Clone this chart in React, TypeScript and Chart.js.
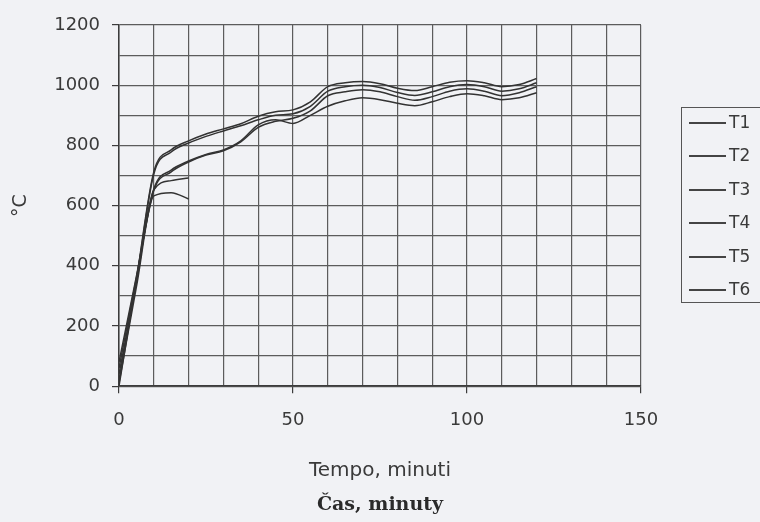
import React, { useEffect, useRef } from "react";
import { Chart, registerables } from "chart.js";

Chart.register(...registerables);

// ---- data ----
const minutes = [0, 5, 10, 15, 20, 25, 30, 35, 40, 45, 50, 55, 60, 65, 70, 75, 80, 85, 90, 95, 100, 105, 110, 115, 120];
const shortMinutes = [0, 5, 10, 15, 20];

const T1 = [0, 355, 712, 785, 815, 838, 855, 872, 897, 912, 918, 945, 995, 1008, 1012, 1005, 990, 982, 995, 1010, 1015, 1008, 995, 1002, 1022];
const T2 = [60, 360, 655, 718, 748, 770, 785, 815, 868, 885, 873, 900, 930, 948, 958, 952, 940, 932, 945, 962, 972, 965, 952, 958, 975];
const T3 = [20, 350, 705, 778, 808, 830, 848, 865, 885, 900, 905, 930, 980, 995, 1000, 992, 976, 966, 978, 995, 1002, 995, 980, 988, 1008];
const T4 = [80, 365, 650, 712, 745, 768, 782, 812, 860, 880, 890, 915, 965, 978, 985, 978, 962, 950, 962, 980, 988, 980, 965, 975, 995];
const T5 = [40, 345, 652, 683, 692];
const T6 = [10, 330, 632, 643, 622];

const seriesNames = ["T1", "T2", "T3", "T4", "T5", "T6"];
const xTickLabels = [0, 50, 100, 150];
const yTickLabels = [0, 200, 400, 600, 800, 1000, 1200];

const xTitle = "Tempo, minuti";
const yTitle = "°C";
const bottomTitle = "Čas, minuty";

// ---- styles ----
const BG = "#f1f2f5";
const GRID = "#5c5c5c";
const AXIS = "#3c3c3c";
const LINE = "#333333";
const TEXT = "#3a3a3a";
const SANS = "'DejaVu Sans', sans-serif";

export default function App() {
  const ref = useRef<HTMLCanvasElement | null>(null);

  useEffect(() => {
    document.body.style.margin = "0";
    document.body.style.background = BG;
    const seriesValues = [T1, T2, T3, T4, T5, T6];
    const seriesTimes = [minutes, minutes, minutes, minutes, shortMinutes, shortMinutes];
    const datasets = seriesNames.map((name, i) => ({
      label: name,
      data: seriesValues[i].map((v, j) => ({ x: seriesTimes[i][j], y: v })),
      borderColor: LINE,
      backgroundColor: LINE,
      borderWidth: 1.5,
      pointRadius: 0,
      fill: false,
      cubicInterpolationMode: "monotone" as const,
    }));

    const chart = new Chart(ref.current as HTMLCanvasElement, {
      type: "line",
      data: { datasets },
      options: {
        animation: false,
        responsive: false,
        layout: { padding: { top: 25, right: 119, bottom: 0, left: 0 } },
        plugins: {
          legend: { display: false },
          tooltip: { enabled: false },
          title: {
            display: true,
            text: bottomTitle,
            position: "bottom",
            fullSize: false,
            color: "#2a2a2a",
            font: { family: "'DejaVu Serif', 'Liberation Serif', serif", size: 19, weight: "bold" },
            padding: { top: 6, bottom: 6 },
          },
        },
        scales: {
          x: {
            type: "linear",
            min: 0,
            max: 150,
            ticks: {
              stepSize: 10,
              autoSkip: false,
              maxRotation: 0,
              padding: 16,
              color: TEXT,
              font: { family: SANS, size: 18 },
              callback: (v: any) => (xTickLabels.includes(Number(v)) ? String(v) : ""),
            },
            grid: {
              color: GRID,
              lineWidth: 1.2,
              tickLength: 7,
              tickColor: (ctx: any) => (ctx.tick && xTickLabels.includes(ctx.tick.value) ? AXIS : "rgba(0,0,0,0)"),
            },
            border: { color: AXIS, width: 1.5 },
            title: {
              display: true,
              text: xTitle,
              color: TEXT,
              font: { family: SANS, size: 20 },
              padding: { top: 0, bottom: 4 },
            },
            afterFit: (s: any) => {
              s.height = 101;
            },
          },
          y: {
            type: "linear",
            min: 0,
            max: 1200,
            ticks: {
              stepSize: 100,
              autoSkip: false,
              padding: 12,
              color: TEXT,
              font: { family: SANS, size: 18 },
              callback: (v: any) => (yTickLabels.includes(Number(v)) ? String(v) : ""),
            },
            grid: {
              color: GRID,
              lineWidth: 1.2,
              tickLength: 7,
              tickColor: (ctx: any) => (ctx.tick && yTickLabels.includes(ctx.tick.value) ? AXIS : "rgba(0,0,0,0)"),
            },
            border: { color: AXIS, width: 1.5 },
            title: {
              display: true,
              text: yTitle,
              color: TEXT,
              font: { family: SANS, size: 19 },
              padding: { top: 10, bottom: 0 },
            },
            afterFit: (s: any) => {
              s.width = 119;
            },
          },
        },
      },
    });
    return () => chart.destroy();
  }, []);

  return (
    <div style={{ position: "fixed", left: 0, top: 0, width: 760, height: 522, background: BG, overflow: "hidden" }}>
      <canvas ref={ref} width={760} height={522} style={{ display: "block", width: 760, height: 522 }} />
      <div
        style={{
          position: "absolute",
          left: 681,
          top: 107,
          width: 110,
          height: 196,
          border: "1px solid #555",
          boxSizing: "border-box",
        }}
      >
        {seriesNames.map((name, i) => (
          <div key={name} style={{ position: "absolute", left: 0, top: Math.round(2 + i * 33.4), height: 24, width: 100 }}>
            <div style={{ position: "absolute", left: 7, top: 12, width: 37, height: 2, background: "#444" }} />
            <div
              style={{
                position: "absolute",
                left: 47,
                top: 1,
                fontFamily: SANS,
                fontSize: 17,
                lineHeight: "22px",
                color: TEXT,
              }}
            >
              {name}
            </div>
          </div>
        ))}
      </div>
    </div>
  );
}
